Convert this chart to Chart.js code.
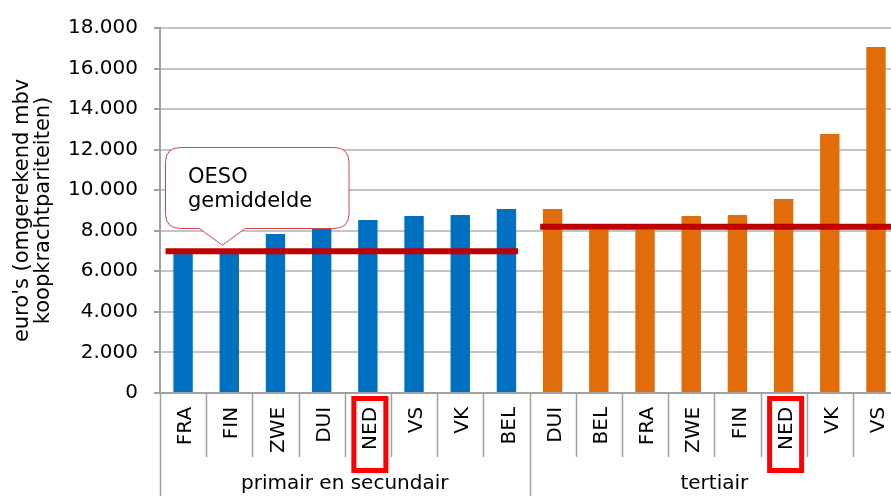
<!DOCTYPE html>
<html>
<head>
<meta charset="utf-8">
<script src="https://cdn.jsdelivr.net/npm/chart.js@4.4.0/dist/chart.umd.min.js"></script>
<style>
  html, body { margin: 0; padding: 0; background: #fff; overflow: hidden; }
  #wrap { width: 891px; height: 496px; overflow: hidden; }
  #box { width: 914px; height: 496px; }
</style>
</head>
<body>
<div id="wrap"><div id="box"><canvas id="costChart"></canvas></div></div>
<script>
// data
var primaryLabels  = ['FRA', 'FIN', 'ZWE', 'DUI', 'NED', 'VS', 'VK', 'BEL'];
var primaryValues  = [6850, 6950, 7840, 8100, 8530, 8730, 8780, 9070];
var tertiaryLabels = ['DUI', 'BEL', 'FRA', 'ZWE', 'FIN', 'NED', 'VK', 'VS'];
var tertiaryValues = [9070, 8050, 8050, 8730, 8780, 9570, 12770, 17060];
var groupLabels    = ['primair en secundair', 'tertiair'];
var oecdAverages   = [6990, 8190];
var yTicks         = [0, 2000, 4000, 6000, 8000, 10000, 12000, 14000, 16000, 18000];
var highlightLabel = 'NED';

var FONT = '"DejaVu Sans", Verdana, sans-serif';
var labels = primaryLabels.concat(tertiaryLabels);
var nP = primaryLabels.length;

function fmt(v) {
  return String(v).replace(/\B(?=(\d{3})+(?!\d))/g, '.');
}

var extrasPlugin = {
  id: 'extras',
  afterDatasetsDraw: function (chart) {
    var ctx = chart.ctx, x = chart.scales.x, y = chart.scales.y;
    var w = x.getPixelForValue(1) - x.getPixelForValue(0);
    ctx.save();

    // OESO average lines
    ctx.strokeStyle = '#c00000';
    ctx.lineWidth = 6;
    var y1 = y.getPixelForValue(oecdAverages[0]);
    ctx.beginPath();
    ctx.moveTo(x.getPixelForValue(0) - 0.38 * w, y1);
    ctx.lineTo(x.getPixelForValue(nP - 1) + 0.25 * w, y1);
    ctx.stroke();
    var y2 = y.getPixelForValue(oecdAverages[1]);
    ctx.beginPath();
    ctx.moveTo(x.getPixelForValue(nP) - 0.27 * w, y2);
    ctx.lineTo(x.getPixelForValue(labels.length - 1) + 0.5 * w, y2);
    ctx.stroke();

    // callout "OESO gemiddelde"
    var tipX = x.getPixelForValue(1) - 0.15 * w;
    var tipY = y1 - 6;
    var bx = 165.5, bw = 183.5, bt = 147.5, bb = 228.5, r = 15;
    ctx.beginPath();
    ctx.moveTo(bx + r, bt);
    ctx.lineTo(bx + bw - r, bt);
    ctx.quadraticCurveTo(bx + bw, bt, bx + bw, bt + r);
    ctx.lineTo(bx + bw, bb - r);
    ctx.quadraticCurveTo(bx + bw, bb, bx + bw - r, bb);
    ctx.lineTo(tipX + 23, bb);
    ctx.lineTo(tipX, tipY);
    ctx.lineTo(tipX - 23, bb);
    ctx.lineTo(bx + r, bb);
    ctx.quadraticCurveTo(bx, bb, bx, bb - r);
    ctx.lineTo(bx, bt + r);
    ctx.quadraticCurveTo(bx, bt, bx + r, bt);
    ctx.closePath();
    ctx.fillStyle = '#ffffff';
    ctx.fill();
    ctx.strokeStyle = '#d9434a';
    ctx.lineWidth = 1;
    ctx.stroke();
    ctx.fillStyle = '#000';
    ctx.font = '21px ' + FONT;
    ctx.textAlign = 'left';
    ctx.textBaseline = 'alphabetic';
    ctx.fillText('OESO', 188, 183);
    ctx.fillText('gemiddelde', 188, 207);

    ctx.restore();
  },
  afterDraw: function (chart) {
    var ctx = chart.ctx, x = chart.scales.x, y = chart.scales.y;
    var w = x.getPixelForValue(1) - x.getPixelForValue(0);
    var base = y.getPixelForValue(0);
    ctx.save();

    // category separators, longer ones between the two groups
    ctx.strokeStyle = '#a0a0a0';
    ctx.lineWidth = 1.5;
    for (var i = 0; i <= labels.length; i++) {
      var sx = Math.round(x.getPixelForValue(0) - w / 2 + i * w) + 0.5;
      var isGroup = (i === 0 || i === nP || i === labels.length);
      ctx.beginPath();
      ctx.moveTo(sx, base);
      ctx.lineTo(sx, isGroup ? 496 : 457);
      ctx.stroke();
    }

    // group labels
    ctx.fillStyle = '#000';
    ctx.font = '20px ' + FONT;
    ctx.textAlign = 'center';
    ctx.textBaseline = 'middle';
    var g1 = (x.getPixelForValue(0) + x.getPixelForValue(nP - 1)) / 2;
    var g2 = (x.getPixelForValue(nP) + x.getPixelForValue(labels.length - 1)) / 2;
    ctx.fillText(groupLabels[0], g1, 484);
    ctx.fillText(groupLabels[1], g2, 484);

    // red boxes around NED
    ctx.strokeStyle = '#ff0000';
    ctx.lineWidth = 5;
    labels.forEach(function (lb, idx) {
      if (lb !== highlightLabel) return;
      var cx = x.getPixelForValue(idx) + 2;
      ctx.strokeRect(cx - 16, 398.5, 32, 72);
    });
    ctx.restore();
  }
};

var ctx = document.getElementById('costChart').getContext('2d');
var costChart = new Chart(ctx, {
  type: 'bar',
  data: {
    labels: labels,
    datasets: [
      {
        label: groupLabels[0],
        data: primaryValues.concat(tertiaryLabels.map(function () { return null; })),
        backgroundColor: '#0070c0',
        grouped: false,
        barPercentage: 0.42,
        categoryPercentage: 1
      },
      {
        label: groupLabels[1],
        data: primaryLabels.map(function () { return null; }).concat(tertiaryValues),
        backgroundColor: '#e36c0a',
        grouped: false,
        barPercentage: 0.42,
        categoryPercentage: 1
      }
    ]
  },
  options: {
    responsive: true,
    maintainAspectRatio: false,
    animation: false,
    layout: { padding: { left: 12, top: 17, right: 0, bottom: 29 } },
    plugins: {
      legend: { display: false },
      tooltip: { enabled: false }
    },
    scales: {
      x: {
        offset: true,
        grid: { display: false, drawTicks: false },
        border: { display: true, color: '#a0a0a0', width: 2 },
        ticks: {
          color: '#000',
          font: { family: FONT, size: 20 },
          minRotation: 90,
          maxRotation: 90,
          padding: 14,
          labelOffset: 3,
          autoSkip: false
        }
      },
      y: {
        min: 0,
        max: 18000,
        afterBuildTicks: function (scale) {
          scale.ticks = yTicks.map(function (v) { return { value: v }; });
        },
        grid: { color: '#c4c4c4', lineWidth: 2, tickLength: 6, tickColor: '#a0a0a0' },
        border: { display: true, color: '#a0a0a0', width: 2 },
        ticks: {
          color: '#000',
          font: { family: FONT, size: 20 },
          padding: 16,
          callback: function (v) { return fmt(v); }
        },
        title: {
          display: true,
          text: ["euro's (omgerekend mbv", 'koopkrachtpariteiten)'],
          color: '#000',
          font: { family: FONT, size: 21, lineHeight: 1.0 },
          padding: { top: 0, bottom: -2 }
        }
      }
    }
  },
  plugins: [extrasPlugin]
});
</script>
</body>
</html>
